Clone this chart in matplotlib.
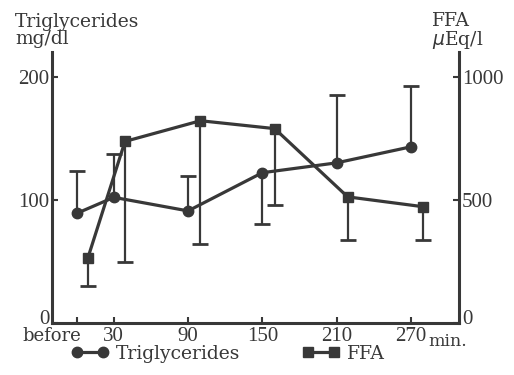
import matplotlib
matplotlib.use('Agg')
import matplotlib.pyplot as plt
import matplotlib.transforms as mtransforms
from matplotlib.lines import Line2D

# x positions in minutes, "before" sits at 0
time_ticks = [0, 30, 90, 150, 210, 270]
time_labels = ['before', '30', '90', '150', '210', '270']

tg_time = [0, 30, 90, 150, 210, 270]
tg_mean = [89, 102, 91, 122, 130, 143]
tg_err = [34, 35, 28, -42, 55, 49]          # sign gives direction of the bar

ffa_time = [9, 39, 100, 160, 219, 280]
ffa_mean = [264, 737, 821, 789, 512, 472]
ffa_err = [-114, -489, -499, -312, -176, -136]

INK = '#383838'
WORD_FONT = 'DejaVu Serif'
NUM_FONT = 'Liberation Serif'
plt.rcParams['font.family'] = [WORD_FONT]
plt.rcParams['text.color'] = INK

W, H = 514, 375
fig = plt.figure(figsize=(W / 100, H / 100), dpi=100)
ax = fig.add_axes([52 / W, 1 - 323 / H, (459 - 52) / W, (323 - 52) / H])
ax2 = ax.twinx()


def draw_series(a, x, y, err, marker, ms):
    ends = [m + e for m, e in zip(y, err)]
    a.vlines(x, y, ends, color=INK, lw=1.6, zorder=2)
    a.plot(x, ends, ls='none', marker='_', ms=11, mew=2, color=INK, zorder=2)
    a.plot(x, y, color=INK, lw=2.3, marker=marker, ms=ms, zorder=3)


draw_series(ax, tg_time, tg_mean, tg_err, 'o', 7.5)
draw_series(ax2, ffa_time, ffa_mean, ffa_err, 's', 6.5)

ax.set_xlim(-20, 309)
ax.set_ylim(0, 220)
ax2.set_ylim(0, 1100)

for s in ['top', 'right']:
    ax.spines[s].set_visible(False)
for s in ['top', 'left', 'bottom']:
    ax2.spines[s].set_visible(False)
for sp in [ax.spines['left'], ax.spines['bottom'], ax2.spines['right']]:
    sp.set_linewidth(2.2)
    sp.set_color(INK)

ax.set_yticks([0, 100, 200])
ax2.set_yticks([0, 500, 1000])
ax.set_xticks(time_ticks)
ax.set_xticklabels(time_labels)
ax.tick_params(axis='both', direction='in', length=4, width=1.5, colors=INK)
ax.tick_params(axis='y', pad=2)
ax.tick_params(axis='x', pad=3)
ax2.tick_params(axis='y', direction='in', length=4, width=1.5, colors=INK,
                pad=2)

# numbers in a narrower face, words in the wider one
for lbl in ax.get_xticklabels() + ax.get_yticklabels() + ax2.get_yticklabels():
    if lbl.get_text().isdigit():
        lbl.set_fontfamily(NUM_FONT)
        lbl.set_fontsize(15)
    else:
        lbl.set_fontsize(13)

# shift "before" to the left like in the original
lbl = ax.get_xticklabels()[0]
lbl.set_transform(lbl.get_transform() +
                  mtransforms.ScaledTranslation(-0.25, 0, fig.dpi_scale_trans))
# the zero labels sit a little above the bottom axis
for lbl in [ax.get_yticklabels()[0], ax2.get_yticklabels()[0]]:
    lbl.set_transform(lbl.get_transform() +
                      mtransforms.ScaledTranslation(0, 0.065, fig.dpi_scale_trans))

ax.annotate('min.', xy=(1, 0), xycoords='axes fraction', xytext=(-31, -10),
            textcoords='offset pixels', ha='left', va='top', fontsize=12.5)

fig.text(15 / W, 1 - 44 / H, 'Triglycerides\nmg/dl', fontsize=13.5,
         va='baseline', linespacing=0.95)
fig.text(432 / W, 1 - 45 / H, 'FFA\n$\\mu$Eq/l', fontsize=13.5,
         va='baseline', linespacing=0.95)

handles = [Line2D([], [], color=INK, lw=2.3, marker='o', ms=7.5),
           Line2D([], [], color=INK, lw=2.3, marker='s', ms=6.5)]
fig.legend(handles, ['Triglycerides', 'FFA'], loc='center left',
           bbox_to_anchor=(71 / W, 1 - 354 / H), ncol=2, numpoints=2,
           frameon=False, fontsize=13.5, handlelength=2.0, handletextpad=0.4,
           columnspacing=3.3, borderpad=0, borderaxespad=0)

fig.savefig('out.png', dpi=100)
